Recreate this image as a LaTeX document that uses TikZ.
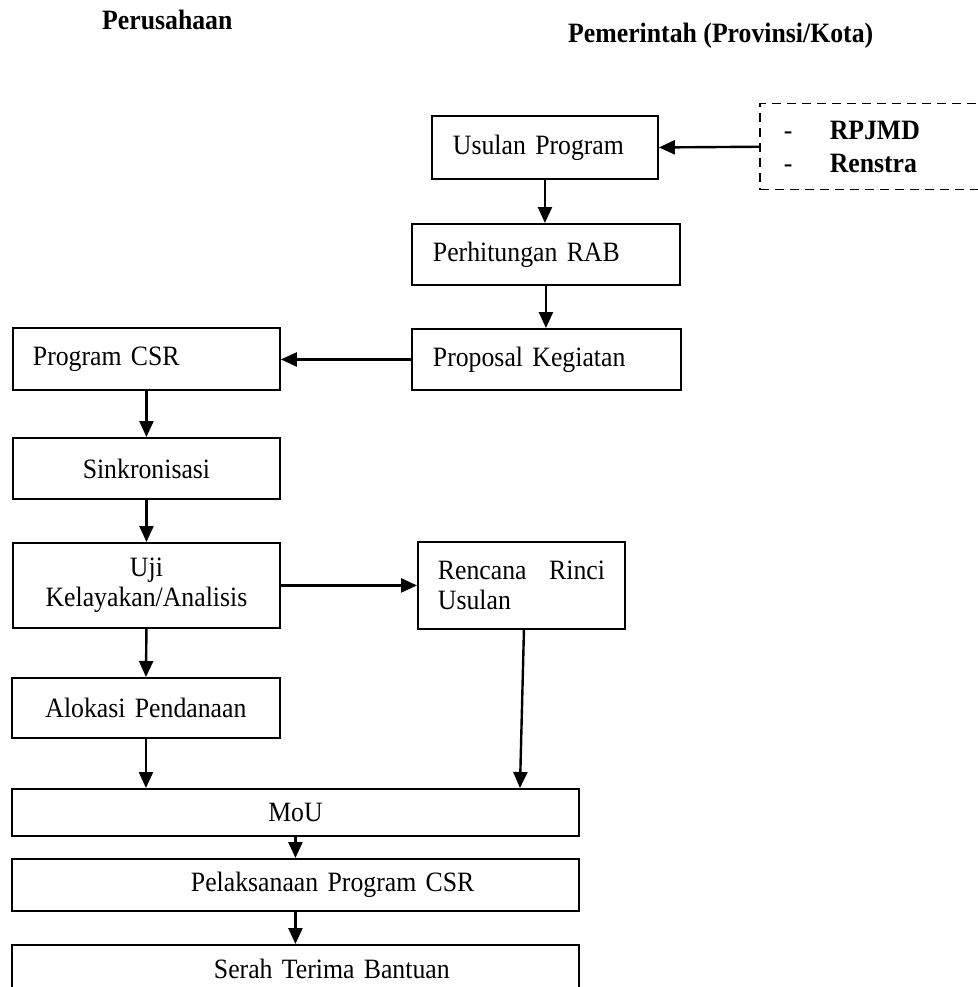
\documentclass[tikz,border=0pt]{standalone}
\usepackage{fontspec}
\setmainfont[FakeStretch=0.92]{Liberation Serif}
\usetikzlibrary{arrows.meta}
\begin{document}
\begin{tikzpicture}[x=1pt,y=-1pt,
  box/.style={draw, line width=1.9pt, rectangle, anchor=north west, inner ysep=0pt,
    font=\fontsize{28}{30}\selectfont},
  flow/.style={line width=2.4pt, -{Triangle[length=16pt,width=14pt]}},
  heading/.style={font=\fontsize{28}{30}\selectfont\bfseries, anchor=base west, inner sep=0pt}]
\useasboundingbox (0,0) rectangle (977,987);

% column headings
\node[heading] (hperusahaan) at (102,30) {Perusahaan};
\node[heading] (hpemerintah) at (568,43) {Pemerintah (Provinsi/Kota)};

% planning documents (box runs past the right edge)
\node[box, dashed, line width=1.5pt, dash pattern=on 9pt off 6pt,
  font=\fontsize{28}{33}\selectfont,
  minimum width=260pt, minimum height=86pt, inner xsep=24pt, text width=212pt, align=left]
  (sumber) at (759,103) {\makebox[46pt][l]{-}\textbf{RPJMD}\\\makebox[46pt][l]{-}\textbf{Renstra}};

% government side
\node[box, minimum width=226pt, minimum height=63pt, inner xsep=21pt, text width=184pt, align=left]
  (usulan) at (431,115) {Usulan Program};
\node[box, minimum width=268pt, minimum height=61pt, inner xsep=21pt, text width=226pt, align=left]
  (rab) at (411,223) {Perhitungan RAB};
\node[box, minimum width=269pt, minimum height=61pt, inner xsep=21pt, text width=227pt, align=left]
  (proposal) at (411,328) {Proposal Kegiatan};
\node[box, minimum width=207pt, minimum height=87pt, inner xsep=20pt, text width=167pt, align=left]
  (rencana) at (417,541) {Rencana\hfill Rinci\\Usulan};

% company side
\node[box, minimum width=267pt, minimum height=62pt, inner xsep=20pt, text width=227pt, align=left]
  (csr) at (12,327) {Program CSR};
\node[box, minimum width=267pt, minimum height=61pt, inner xsep=10pt, text width=247pt, align=center]
  (sinkron) at (12,437) {Sinkronisasi};
\node[box, minimum width=267pt, minimum height=85pt, inner xsep=10pt, text width=247pt, align=center]
  (uji) at (12,542) {Uji\\Kelayakan/Analisis};
\node[box, minimum width=268pt, minimum height=60pt, inner xsep=10pt, text width=248pt, align=center]
  (alokasi) at (11,677) {Alokasi Pendanaan};

% joint steps
\node[box, minimum width=567pt, minimum height=47pt, inner xsep=10pt, text width=547pt, align=center]
  (mou) at (11,788) {MoU};
\node[box, minimum width=567pt, minimum height=52pt, inner xsep=10pt, text width=547pt, align=left]
  (pelaksanaan) at (11,858) {\hspace*{169pt}Pelaksanaan Program CSR};
% last box continues below the lower edge; only its top part shows
\node[box, minimum width=567pt, minimum height=48pt, inner xsep=10pt, text width=547pt, align=left]
  (serah) at (11,944) {\hspace*{192pt}Serah Terima Bantuan};
\draw[line width=1.9pt] (serah.south west) -- ++(0,20) (serah.south east) -- ++(0,20);

% connectors
\draw[flow] (sumber.west) -- (usulan.east);
\draw[flow] (usulan.south) -- (usulan.south |- rab.north);
\draw[flow] (rab.south) -- (rab.south |- proposal.north);
\draw[flow] (proposal.west) -- (proposal.west -| csr.east);
\draw[flow] (csr.south) -- (sinkron.north);
\draw[flow] (sinkron.south) -- (uji.north);
\draw[flow] (uji.east) -- (uji.east -| rencana.west);
\draw[flow] (uji.south) -- (alokasi.north);
\draw[flow] (alokasi.south) -- (alokasi.south |- mou.north);
\draw[flow] ([xshift=2.5pt]rencana.south) -- ([xshift=-1.5pt]rencana.south |- mou.north);
\draw[flow] (mou.south) -- (pelaksanaan.north);
\draw[flow] (pelaksanaan.south) -- (serah.north);
\end{tikzpicture}
\end{document}
